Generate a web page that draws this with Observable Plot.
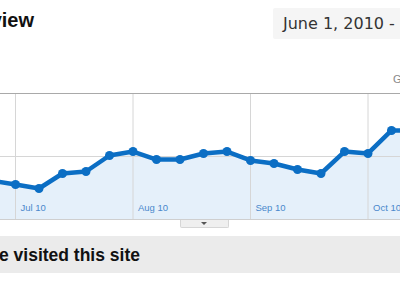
<!DOCTYPE html>
<html><head><meta charset="utf-8">
<script src="https://cdn.jsdelivr.net/npm/d3@7"></script>
<script src="https://cdn.jsdelivr.net/npm/@observablehq/plot@0.6"></script>
<style>
html,body{margin:0;padding:0;background:#fff;}
#page{position:relative;width:400px;height:290px;overflow:hidden;font-family:"Liberation Sans",Arial,sans-serif;background:#fff;}
#title{position:absolute;right:366px;top:8px;font-size:20px;font-weight:bold;color:#111;white-space:nowrap;line-height:24px;}
#datebox{position:absolute;left:273px;top:8px;width:160px;height:31px;background:#f5f5f5;border-radius:2px;}
#datetext{position:absolute;left:10px;top:0;line-height:31px;font-family:"DejaVu Sans",Verdana,sans-serif;font-size:16px;color:#333;white-space:nowrap;}
#graphby{position:absolute;left:393px;top:73px;font-size:11px;color:#888;white-space:nowrap;}
#chartwrap{position:absolute;left:0;top:93px;width:400px;height:125px;border-top:1px solid #a9a9a9;border-bottom:1px solid #cfcfcf;overflow:hidden;}
#tab{position:absolute;left:180px;top:220px;width:47px;height:7px;background:#efefef;border:1px solid #d6d6d6;border-top:none;border-radius:0 0 2px 2px;}
#tri{position:absolute;left:20px;top:2px;width:0;height:0;border-left:3px solid transparent;border-right:3px solid transparent;border-top:3px solid #555;}
#band{position:absolute;left:0;top:236px;width:400px;height:37px;background:#ebebeb;}
#bandtext{position:absolute;right:260px;top:1px;line-height:37px;font-size:17.5px;font-weight:bold;color:#111;white-space:nowrap;}
</style></head><body>
<div id="page">
  <div id="title">Visitors Overview</div>
  <div id="datebox"><div id="datetext">June 1, 2010 - October 31, 2010</div></div>
  <div id="graphby">Graph by:</div>
  <div id="chartwrap"></div>
  <div id="tab"><div id="tri"></div></div>
  <div id="band"><div id="bandtext">3,157 people visited this site</div></div>
</div>
<script>
// weekly points (index), visits
const pointIndex = [0,1,2,3,4,5,6,7,8,9,10,11,12,13,14,15,16,17,18];
const visits = [615,556,492,730,762,1016,1079,952,952,1048,1079,937,889,794,730,1079,1048,1413,1413];
const tickIndex = [1,6,11,16];
const tickLabels = ["Jul 10","Aug 10","Sep 10","Oct 10"];
const gridValues = [1000];
const yMax = 2000;

const data = pointIndex.map((i, k) => ({i, v: visits[k]}));
const ticks = tickIndex.map((i, k) => ({i, label: tickLabels[k]}));

const chart = Plot.plot({
  width: 400,
  height: 125,
  marginTop: 0, marginRight: 0, marginBottom: 0, marginLeft: 0,
  style: {background: "transparent", overflow: "hidden"},
  x: {domain: [1, 17], range: [15, 391], axis: null},
  y: {domain: [0, yMax], range: [125, -1], axis: null},
  marks: [
    Plot.areaY(data, {x: "i", y: "v", fill: "#e5f0fa"}),
    Plot.ruleX(tickIndex, {stroke: "#d6d6d6", strokeWidth: 1}),
    Plot.ruleY(gridValues, {stroke: "#d6d6d6", strokeWidth: 1}),
    Plot.text(ticks, {x: "i", y: () => 0, text: "label", dx: 5, dy: -12, textAnchor: "start",
      fill: "#4a88cc", fontSize: 9.5, fontFamily: "Liberation Sans, Arial, sans-serif"}),
    Plot.line(data, {x: "i", y: "v", stroke: "#0b6ec4", strokeWidth: 4.5}),
    Plot.dot(data, {x: "i", y: "v", r: 4.5, fill: "#0b6ec4", stroke: "none"})
  ]
});
document.getElementById("chartwrap").appendChild(chart);
</script>
</body></html>
